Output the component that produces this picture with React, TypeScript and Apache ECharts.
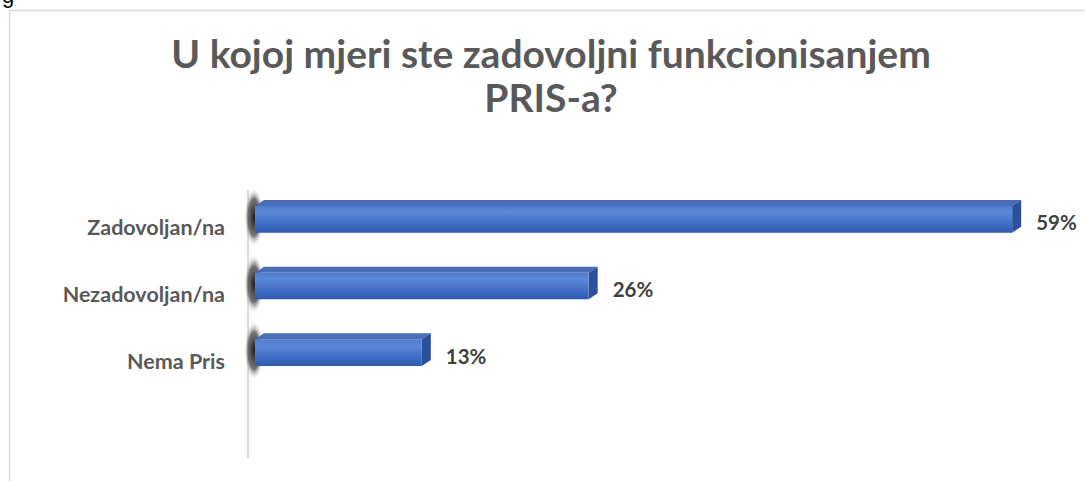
import React, { useEffect, useRef } from "react";
import * as echarts from "echarts";

const categories = ["Zadovoljan/na", "Nezadovoljan/na", "Nema Pris"];
const values = [59, 26, 13];
const titleText = "U kojoj mjeri ste zadovoljni funkcionisanjem\nPRIS-a?";

export default function App() {
  const ref = useRef<HTMLDivElement>(null);
  useEffect(() => {
    if (!ref.current) return;
    const chart = echarts.init(ref.current, undefined, { renderer: "svg" });
    const data = values.map((v, i) => [v, i]);
    const font = "Lato";
    chart.setOption({
      animation: false,
      backgroundColor: "#ffffff",
      title: {
        text: titleText,
        left: 546,
        top: 26,
        textAlign: "center",
        textStyle: {
          fontFamily: font,
          fontSize: 39,
          lineHeight: 44,
          fontWeight: "bold",
          color: "#595959",
        },
      },
      grid: { left: 255, right: 60, top: 194, bottom: 87 },
      xAxis: {
        type: "value",
        min: 0,
        max: 60,
        show: false,
      },
      yAxis: {
        type: "category",
        inverse: true,
        data: categories,
        axisLine: { show: false },
        axisTick: { show: false },
        axisLabel: {
          margin: 30,
          fontFamily: font,
          fontSize: 21.5,
          fontWeight: "bold",
          color: "#595959",
        },
      },
      graphic: [
        {
          type: "rect",
          silent: true,
          shape: { x: 9.5, y: 10.5, width: 1200, height: 600 },
          style: { fill: "none", stroke: "#d9d9d9", lineWidth: 1.5 },
        },
        {
          type: "text",
          x: 2,
          y: -16,
          style: { text: "g", fontSize: 22, fontFamily: "Arial", fill: "#000" },
        },
        {
          type: "line",
          silent: true,
          shape: { x1: 248, y1: 190, x2: 248, y2: 458 },
          style: { stroke: "#d9d9d9", lineWidth: 2 },
        },
      ],
      series: [
        {
          type: "custom",
          data,
          encode: { x: 0, y: 1 },
          renderItem: (params: any, api: any) => {
            const val = api.value(0);
            const cat = api.value(1);
            const s = api.coord([0, cat]);
            const e = api.coord([val, cat]);
            const band = api.size([0, 1])[1];
            const h = band * 0.4;
            const dx = 9;
            const dy = 6;
            const yc = s[1] - 8;
            const x0 = s[0];
            const x1 = e[0];
            const yt = yc - h / 2;
            const yb = yc + h / 2;
            return {
              type: "group",
              children: [
                {
                  type: "ellipse",
                  shape: { cx: x0 - 1, cy: yc - 2, rx: 10, ry: h / 2 + 17 },
                  style: {
                    fill: new echarts.graphic.RadialGradient(0.5, 0.5, 0.5, [
                      { offset: 0, color: "rgba(30,30,30,1)" },
                      { offset: 0.6, color: "rgba(70,70,70,0.75)" },
                      { offset: 1, color: "rgba(255,255,255,0)" },
                    ]),
                  },
                },
                {
                  type: "polygon",
                  shape: {
                    points: [
                      [x0, yt],
                      [x0 + dx, yt - dy],
                      [x1 + dx, yt - dy],
                      [x1, yt],
                    ],
                  },
                  style: { fill: "#4a6db8" },
                },
                {
                  type: "polygon",
                  shape: {
                    points: [
                      [x1, yt],
                      [x1 + dx, yt - dy],
                      [x1 + dx, yb - dy],
                      [x1, yb],
                    ],
                  },
                  style: { fill: "#2c4f9c" },
                },
                {
                  type: "rect",
                  shape: { x: x0, y: yt, width: x1 - x0, height: h },
                  style: {
                    fill: new echarts.graphic.LinearGradient(0, 0, 0, 1, [
                      { offset: 0, color: "#4f7ccc" },
                      { offset: 0.25, color: "#5c88d8" },
                      { offset: 0.7, color: "#3f6cc4" },
                      { offset: 1, color: "#2d5ab0" },
                    ]),
                  },
                },
                {
                  type: "text",
                  x: x1 + dx + 15,
                  y: yc + 3,
                  style: {
                    text: val + "%",
                    fontFamily: font,
                    fontSize: 20.5,
                    fontWeight: "bold",
                    fill: "#404040",
                    verticalAlign: "middle",
                    align: "left",
                  },
                },
              ],
            };
          },
        },
      ],
    });
    return () => chart.dispose();
  }, []);
  return (
    <div
      ref={ref}
      style={{ position: "absolute", left: 0, top: 0, width: 1085, height: 481 }}
    />
  );
}
